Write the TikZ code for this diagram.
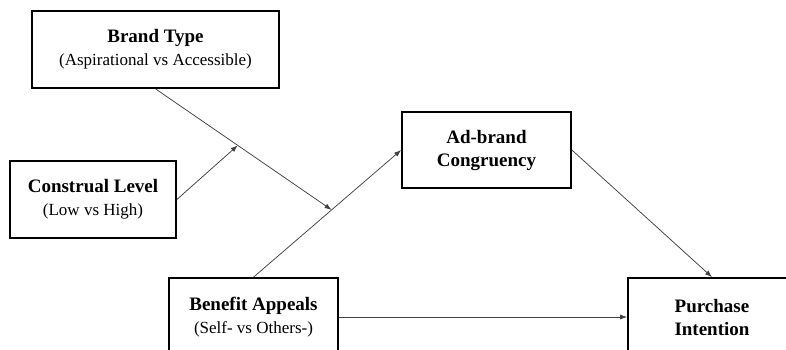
\documentclass[tikz,border=0pt]{standalone}
\usepackage{fontspec}
\setmainfont{Liberation Serif}
\usetikzlibrary{arrows.meta,calc}
\tikzset{
  box/.style={draw=black, line width=1.7pt, rectangle, minimum height=77pt, inner sep=0pt, align=center, font=\fontsize{19}{23}\selectfont},
  conn/.style={draw=black!75, line width=0.75pt, -{Latex[length=7pt,width=5pt]}}
}
\newcommand{\subtxt}[1]{{\fontsize{17}{23}\selectfont #1}}
\begin{document}
\begin{tikzpicture}[x=1pt,y=-1pt]
\useasboundingbox (0,0) rectangle (786,349);
\node[box, minimum width=247pt] (bt) at (155.5,49.5) {\textbf{Brand Type}\\\subtxt{(Aspirational vs Accessible)}};
\node[box, minimum width=166pt] (cl) at (93,199.5) {\textbf{Construal Level}\\\subtxt{(Low vs High)}};
\node[box, minimum width=169pt, minimum height=76pt] (ab) at (486.5,150) {\textbf{Ad-brand}\\\textbf{Congruency}};
\node[box, minimum width=169pt, minimum height=78pt] (ba) at (253.5,317) {\textbf{Benefit Appeals}\\\subtxt{(Self- vs Others-)}};
\node[box, minimum width=168pt, minimum height=78pt] (pi) at (712,317) {\textbf{Purchase}\\\textbf{Intention}};
\coordinate (m2) at ($(ba.north)!0.529!(ab.west)$);
\coordinate (m1) at ($(bt.south)!0.467!(m2)$);
\draw[conn] (ba.north) -- (ab.west);
\draw[conn] (bt.south) -- (m2);
\draw[conn] (cl.east) -- (m1);
\draw[conn] (ab.east) -- (pi.north);
\draw[conn] (ba.east) -- (pi.west);
\end{tikzpicture}
\end{document}
